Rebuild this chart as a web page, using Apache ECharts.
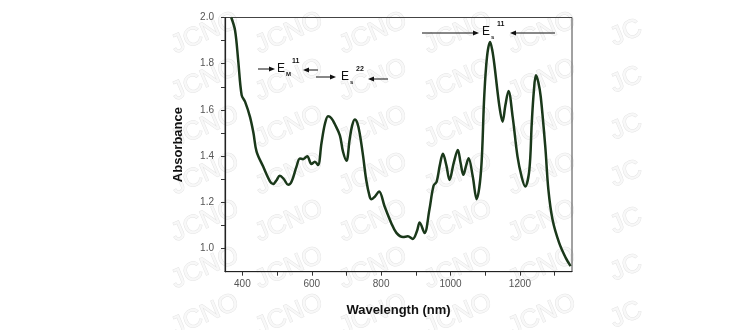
<!DOCTYPE html>
<html>
<head>
<meta charset="utf-8">
<script src="https://cdn.jsdelivr.net/npm/echarts@6/dist/echarts.min.js"></script>
<style>
  html, body { margin: 0; padding: 0; background: #fff; }
  #chart { width: 748px; height: 330px; }
</style>
</head>
<body>
<div id="chart"></div>
<script>
// wavelength (nm) and absorbance
const wavelength = [368, 379, 388, 398, 408, 422, 432, 441, 460, 480, 489, 498, 508, 520, 532, 542,
  556, 566, 575, 587, 599, 609, 618, 628, 638, 647, 656, 666, 681, 690, 700, 709, 716, 724, 731, 738,
  748, 757, 767, 772, 782, 794, 810, 829, 844, 863, 877, 891, 903, 911, 925, 939, 951, 960, 969, 978,
  988, 997, 1009, 1021, 1029, 1037, 1045, 1052, 1064, 1075, 1088, 1097, 1105, 1114, 1120, 1126, 1141,
  1150, 1158, 1167, 1179, 1193, 1205, 1215, 1227, 1234, 1240, 1246, 1253, 1260, 1273, 1282, 1294,
  1313, 1332, 1346];
const absorbance = [2.00, 1.944, 1.815, 1.664, 1.635, 1.57, 1.50, 1.42, 1.355, 1.29, 1.28, 1.295, 1.315,
  1.30, 1.276, 1.29, 1.355, 1.39, 1.387, 1.40, 1.366, 1.376, 1.362, 1.456, 1.54, 1.573, 1.565, 1.54,
  1.49, 1.42, 1.38, 1.47, 1.53, 1.559, 1.545, 1.50, 1.40, 1.297, 1.225, 1.214, 1.225, 1.247, 1.182,
  1.111, 1.068, 1.05, 1.053, 1.042, 1.075, 1.113, 1.068, 1.168, 1.272, 1.29, 1.36, 1.41, 1.36, 1.297,
  1.37, 1.427, 1.37, 1.319, 1.36, 1.391, 1.312, 1.214, 1.34, 1.656, 1.829, 1.894, 1.86, 1.80, 1.613,
  1.549, 1.62, 1.682, 1.57, 1.398, 1.31, 1.269, 1.34, 1.542, 1.68, 1.75, 1.72, 1.656, 1.441, 1.254,
  1.125, 1.025, 0.96, 0.924];

const xLabels = [400, 600, 800, 1000, 1200];
const xTicks = [400, 500, 600, 700, 800, 900, 1000, 1100, 1200, 1300];
const yLabels = [1.0, 1.2, 1.4, 1.6, 1.8, 2.0];
const yTicks = [1.0, 1.1, 1.2, 1.3, 1.4, 1.5, 1.6, 1.7, 1.8, 1.9, 2.0];

const chart = echarts.init(document.getElementById('chart'));

// arrow pointing from x1 to x2 on row y
function arrow(x1, x2, y) {
  const d = x2 > x1 ? 1 : -1;
  return [
    { type: 'line', shape: { x1: x1, y1: y, x2: x2 - d * 4, y2: y }, style: { stroke: '#111', lineWidth: 1 } },
    { type: 'polygon', shape: { points: [[x2, y], [x2 - d * 6, y - 2.5], [x2 - d * 6, y + 2.5]] }, style: { fill: '#111' } }
  ];
}
function label(x, y, main, sub, sup) {
  return [
    { type: 'text', x: x, y: y, style: { text: main, font: '12px Arial', fill: '#111', verticalAlign: 'middle' } },
    { type: 'text', x: x + 9, y: y + 5, style: { text: sub, font: 'bold 6px Arial', fill: '#111', verticalAlign: 'middle' } },
    { type: 'text', x: x + 15, y: y - 8, style: { text: sup, font: 'bold 7px Arial', fill: '#111', verticalAlign: 'middle' } }
  ];
}

// faint JCNO watermark tiles
const marks = [];
const cols = [170, 254, 338, 423, 507, 591];
const rows = [33, 80, 127, 174, 221, 268, 315];
rows.forEach(function (ry) {
  cols.forEach(function (cx, i) {
    marks.push({
      type: 'text', x: cx + 35, y: ry, rotation: 0.4, z: -10,
      style: {
        text: i === cols.length - 1 ? 'JC' : 'JCNO', font: '26px Arial',
        fill: '#f8f8f8', stroke: '#e4e4e4', lineWidth: 1, align: 'center', verticalAlign: 'middle'
      }
    });
  });
});

const notes = [].concat(
  arrow(258, 275, 69), label(277, 69, 'E', 'M', '11'), arrow(318, 303, 70),
  arrow(316, 336, 77), label(341, 77, 'E', 's', '22'), arrow(388, 368, 79),
  arrow(422, 479, 33), label(482, 32, 'E', 's', '11'), arrow(555, 510, 33)
);

chart.setOption({
  animation: false,
  backgroundColor: '#fff',
  grid: { left: 225, right: 176, top: 17.5, bottom: 58.3, show: true, borderColor: '#444', borderWidth: 1 },
  xAxis: {
    type: 'value', min: 350, max: 1350,
    name: 'Wavelength (nm)', nameLocation: 'middle', nameGap: 32,
    nameTextStyle: { fontFamily: 'Arial', fontWeight: 'bold', fontSize: 13, color: '#111' },
    axisLine: { lineStyle: { color: '#222', width: 1.2 } },
    axisTick: { show: true, length: 4, customValues: xTicks, lineStyle: { color: '#333' } },
    axisLabel: { customValues: xLabels, margin: 8, fontFamily: 'Arial', fontSize: 10, color: '#555',
      formatter: function (v) { return String(v); } },
    splitLine: { show: false }
  },
  yAxis: {
    type: 'value', min: 0.9, max: 2.0,
    name: 'Absorbance', nameLocation: 'middle', nameGap: 40,
    nameTextStyle: { fontFamily: 'Arial', fontWeight: 'bold', fontSize: 13, color: '#111' },
    axisLine: { show: true, lineStyle: { color: '#222', width: 1.2 } },
    axisTick: { show: true, length: 4, customValues: yTicks, lineStyle: { color: '#333' } },
    axisLabel: { customValues: yLabels, margin: 11, fontFamily: 'Arial', fontSize: 10, color: '#555',
      formatter: function (v) { return v.toFixed(1); } },
    splitLine: { show: false }
  },
  graphic: marks.concat(notes),
  series: [{
    type: 'line',
    data: wavelength.map(function (w, i) { return [w, absorbance[i]]; }),
    smooth: 0.35,
    showSymbol: false,
    clip: true,
    lineStyle: { color: '#1a381a', width: 2.5 }
  }]
});
</script>
</body>
</html>
